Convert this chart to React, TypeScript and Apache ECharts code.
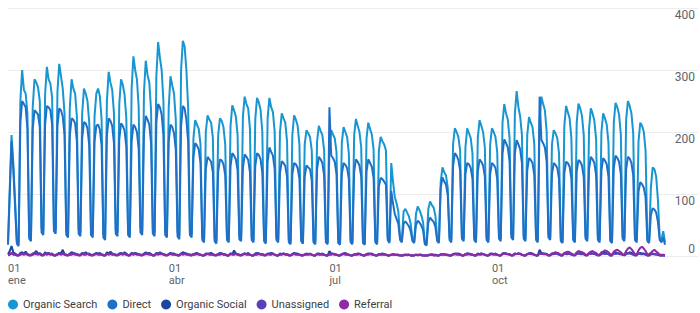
import React, { useEffect, useRef } from "react";
import * as echarts from "echarts";

// Daily sessions, one row per week (Mon..Sun), starting 2024-01-01
const ORGANIC_SEARCH = [
  22, 110, 195, 150, 90, 24, 20,
  250, 300, 268, 262, 230, 32, 28,
  240, 285, 280, 272, 250, 45, 40,
  260, 305, 285, 278, 255, 48, 42,
  265, 310, 290, 270, 230, 40, 35,
  240, 285, 270, 262, 225, 42, 38,
  230, 270, 262, 250, 215, 40, 36,
  225, 262, 270, 258, 220, 35, 30,
  250, 297, 280, 268, 230, 42, 38,
  245, 285, 276, 260, 222, 40, 35,
  270, 322, 300, 285, 240, 45, 40,
  265, 315, 292, 280, 235, 42, 38,
  290, 345, 320, 300, 250, 40, 35,
  240, 290, 275, 262, 220, 38, 32,
  300, 347, 338, 300, 240, 40, 35,
  190, 219, 212, 205, 180, 30, 25,
  200, 227, 220, 215, 190, 28, 24,
  195, 222, 218, 208, 180, 30, 26,
  210, 243, 235, 225, 195, 32, 28,
  225, 257, 245, 238, 205, 30, 25,
  220, 255, 248, 236, 200, 28, 24,
  222, 255, 240, 232, 200, 30, 26,
  200, 230, 222, 215, 185, 26, 22,
  195, 227, 220, 210, 180, 28, 24,
  180, 203, 198, 192, 170, 25, 22,
  185, 210, 202, 195, 170, 26, 22,
  178, 203, 196, 190, 168, 24, 20,
  182, 208, 200, 192, 165, 25, 22,
  195, 221, 210, 200, 175, 24, 20,
  190, 215, 205, 196, 172, 26, 22,
  170, 192, 185, 180, 170, 30, 24,
  150, 120, 95, 85, 72, 30, 25,
  72, 76, 70, 64, 52, 28, 24,
  68, 80, 74, 66, 55, 22, 20,
  76, 88, 82, 78, 65, 28, 24,
  120, 143, 135, 130, 110, 30, 26,
  180, 206, 200, 192, 170, 32, 28,
  175, 206, 198, 190, 165, 30, 26,
  190, 219, 210, 200, 175, 30, 25,
  180, 206, 200, 192, 168, 32, 28,
  215, 245, 230, 220, 190, 35, 30,
  230, 266, 240, 225, 195, 32, 28,
  195, 224, 215, 208, 180, 30, 26,
  220, 257, 245, 235, 200, 35, 30,
  180, 203, 198, 190, 165, 28, 24,
  210, 242, 232, 222, 190, 30, 25,
  215, 246, 238, 226, 195, 32, 28,
  205, 238, 230, 218, 188, 30, 26,
  200, 230, 222, 212, 182, 28, 24,
  215, 247, 240, 228, 196, 32, 28,
  220, 250, 242, 230, 198, 30, 26,
  185, 215, 210, 200, 170, 28, 24,
  110, 143, 140, 128, 90, 30, 26,
  40, 22,
];

const DIRECT = [
  18, 100, 185, 140, 80, 20, 16,
  215, 250, 245, 240, 205, 28, 24,
  205, 235, 232, 228, 208, 38, 34,
  212, 242, 240, 235, 212, 40, 36,
  210, 238, 235, 225, 195, 34, 30,
  195, 222, 220, 214, 185, 36, 32,
  190, 216, 214, 206, 178, 34, 30,
  185, 210, 212, 204, 178, 30, 26,
  195, 222, 218, 210, 182, 36, 32,
  188, 214, 210, 202, 176, 34, 30,
  185, 212, 208, 200, 172, 38, 34,
  198, 226, 220, 212, 182, 36, 32,
  215, 245, 240, 228, 195, 34, 30,
  185, 212, 208, 198, 172, 32, 27,
  210, 242, 238, 220, 185, 34, 30,
  160, 182, 178, 172, 150, 26, 22,
  140, 160, 156, 152, 135, 24, 20,
  136, 156, 154, 148, 130, 26, 22,
  145, 166, 162, 156, 138, 27, 24,
  142, 164, 160, 155, 135, 26, 22,
  145, 166, 163, 156, 134, 24, 20,
  152, 175, 168, 162, 140, 26, 22,
  134, 153, 150, 145, 128, 22, 19,
  132, 150, 148, 142, 125, 24, 20,
  128, 146, 143, 140, 122, 22, 19,
  140, 160, 156, 150, 130, 22, 19,
  240, 162, 158, 152, 132, 21, 18,
  132, 150, 147, 142, 124, 22, 19,
  136, 156, 152, 146, 128, 21, 18,
  136, 156, 150, 144, 126, 22, 19,
  112, 126, 124, 120, 115, 26, 21,
  105, 85, 68, 60, 52, 26, 22,
  52, 56, 52, 48, 40, 24, 21,
  50, 57, 54, 49, 42, 19, 17,
  54, 62, 58, 55, 47, 24, 21,
  110, 127, 120, 115, 98, 26, 22,
  145, 166, 162, 155, 138, 28, 24,
  132, 150, 148, 142, 124, 26, 22,
  136, 156, 152, 146, 128, 26, 22,
  132, 150, 147, 142, 124, 28, 24,
  165, 188, 182, 175, 152, 30, 26,
  165, 187, 180, 172, 150, 28, 24,
  138, 158, 155, 150, 130, 26, 22,
  257, 187, 182, 175, 152, 30, 26,
  132, 150, 147, 142, 124, 24, 21,
  134, 152, 150, 144, 125, 26, 22,
  136, 155, 152, 146, 127, 28, 24,
  140, 160, 156, 150, 130, 26, 22,
  138, 158, 154, 148, 128, 24, 21,
  142, 162, 158, 152, 132, 28, 24,
  140, 160, 157, 150, 130, 26, 22,
  104, 119, 116, 110, 95, 24, 21,
  66, 77, 75, 70, 55, 26, 22,
  30, 18,
];

const ORGANIC_SOCIAL = [
  3, 8, 16, 6, 4, 2, 1,
  5, 6, 4, 7, 3, 1, 2,
  4, 5, 8, 4, 3, 2, 1,
  6, 4, 5, 3, 4, 1, 1,
  3, 5, 4, 10, 3, 2, 1,
  4, 6, 5, 4, 3, 1, 2,
  5, 4, 6, 3, 4, 2, 1,
  3, 5, 4, 5, 2, 1, 1,
  6, 4, 7, 4, 3, 2, 1,
  4, 5, 3, 6, 4, 1, 2,
  5, 4, 5, 4, 3, 2, 1,
  4, 6, 4, 5, 3, 1, 1,
  5, 4, 6, 4, 3, 2, 1,
  3, 5, 4, 4, 2, 1, 1,
  4, 6, 5, 4, 3, 2, 1,
  3, 4, 5, 3, 2, 1, 1,
  4, 3, 4, 5, 3, 1, 2,
  3, 5, 4, 3, 2, 1, 1,
  4, 3, 9, 4, 3, 2, 1,
  3, 4, 3, 5, 2, 1, 1,
  4, 5, 4, 3, 3, 1, 2,
  3, 4, 5, 4, 2, 1, 1,
  4, 3, 4, 3, 3, 2, 1,
  3, 5, 4, 4, 2, 1, 1,
  2, 4, 3, 3, 2, 1, 1,
  3, 4, 3, 4, 2, 1, 1,
  8, 4, 3, 3, 2, 1, 1,
  3, 4, 5, 3, 2, 1, 1,
  2, 3, 4, 3, 2, 1, 1,
  3, 4, 3, 4, 2, 1, 1,
  3, 3, 4, 3, 2, 1, 1,
  2, 3, 2, 2, 2, 1, 1,
  1, 2, 2, 2, 1, 1, 1,
  2, 1, 2, 2, 1, 1, 1,
  1, 2, 2, 1, 2, 1, 1,
  2, 3, 3, 2, 2, 1, 1,
  3, 4, 3, 4, 3, 1, 1,
  3, 4, 4, 3, 2, 1, 1,
  4, 3, 4, 3, 2, 1, 1,
  3, 4, 3, 4, 2, 1, 1,
  4, 5, 4, 3, 3, 1, 2,
  4, 3, 4, 4, 2, 1, 1,
  3, 4, 5, 3, 2, 1, 1,
  10, 5, 4, 4, 3, 1, 2,
  4, 3, 4, 5, 3, 1, 1,
  4, 5, 4, 3, 3, 2, 1,
  5, 4, 5, 4, 3, 1, 1,
  4, 5, 4, 4, 3, 1, 2,
  4, 5, 6, 4, 3, 1, 1,
  5, 6, 5, 4, 3, 2, 1,
  5, 4, 6, 5, 3, 1, 2,
  4, 5, 4, 4, 3, 1, 1,
  3, 4, 3, 3, 2, 1, 1,
  1, 1,
];

const UNASSIGNED = [
  2, 3, 5, 3, 2, 1, 1,
  3, 4, 3, 4, 3, 2, 1,
  3, 4, 4, 3, 5, 2, 2,
  4, 3, 4, 3, 3, 1, 2,
  3, 4, 3, 4, 3, 2, 1,
  3, 3, 4, 3, 3, 2, 2,
  4, 3, 3, 4, 2, 1, 2,
  3, 4, 3, 3, 3, 2, 1,
  4, 3, 4, 3, 3, 2, 2,
  3, 4, 3, 4, 2, 1, 1,
  4, 3, 4, 3, 3, 2, 2,
  3, 4, 4, 3, 3, 1, 2,
  4, 3, 4, 4, 3, 2, 1,
  3, 4, 3, 3, 2, 2, 1,
  4, 3, 4, 3, 3, 2, 2,
  3, 3, 4, 3, 2, 1, 1,
  3, 4, 3, 3, 2, 2, 1,
  3, 3, 4, 3, 3, 1, 1,
  4, 3, 3, 4, 2, 2, 1,
  3, 4, 3, 3, 2, 1, 1,
  3, 3, 4, 3, 3, 2, 1,
  4, 3, 3, 4, 2, 1, 1,
  3, 3, 4, 3, 2, 1, 1,
  3, 4, 3, 3, 2, 2, 1,
  3, 3, 3, 4, 2, 1, 1,
  4, 3, 3, 3, 2, 1, 1,
  3, 3, 4, 3, 2, 1, 1,
  3, 4, 3, 3, 2, 1, 1,
  3, 3, 3, 4, 2, 1, 1,
  3, 3, 4, 3, 2, 1, 1,
  3, 3, 3, 3, 2, 1, 1,
  2, 3, 2, 2, 2, 1, 1,
  2, 2, 2, 2, 1, 1, 1,
  2, 2, 2, 2, 1, 1, 1,
  2, 2, 3, 2, 2, 1, 1,
  3, 3, 3, 2, 2, 1, 1,
  3, 3, 4, 3, 2, 1, 1,
  3, 4, 3, 3, 2, 1, 1,
  3, 3, 4, 3, 2, 1, 1,
  4, 3, 3, 3, 2, 1, 1,
  3, 4, 4, 3, 3, 1, 1,
  4, 3, 4, 3, 2, 1, 1,
  3, 4, 3, 4, 2, 1, 1,
  4, 4, 3, 3, 3, 1, 1,
  3, 3, 4, 3, 2, 1, 1,
  4, 3, 3, 4, 2, 1, 1,
  3, 4, 3, 3, 3, 2, 1,
  4, 3, 4, 3, 2, 1, 1,
  3, 4, 3, 4, 3, 1, 1,
  4, 3, 4, 3, 3, 2, 1,
  3, 4, 4, 3, 2, 1, 1,
  4, 3, 3, 3, 2, 1, 1,
  3, 3, 3, 2, 2, 1, 1,
  1, 1,
];

const REFERRAL = [
  1, 2, 4, 2, 2, 1, 1,
  2, 3, 2, 3, 2, 1, 1,
  2, 3, 3, 2, 3, 1, 1,
  3, 2, 3, 2, 2, 1, 1,
  2, 3, 2, 3, 2, 1, 1,
  2, 2, 3, 2, 2, 1, 1,
  3, 2, 2, 3, 2, 1, 1,
  2, 3, 2, 2, 2, 1, 1,
  3, 2, 3, 2, 2, 1, 1,
  2, 3, 2, 3, 2, 1, 1,
  3, 2, 3, 2, 2, 1, 1,
  2, 3, 3, 2, 2, 1, 1,
  3, 2, 3, 3, 2, 1, 1,
  2, 3, 2, 2, 2, 1, 1,
  3, 2, 3, 2, 2, 1, 1,
  2, 2, 3, 2, 2, 1, 1,
  2, 3, 2, 2, 2, 1, 1,
  2, 2, 3, 2, 2, 1, 1,
  3, 2, 2, 3, 2, 1, 1,
  2, 3, 2, 2, 2, 1, 1,
  2, 2, 3, 2, 2, 1, 1,
  3, 2, 2, 3, 2, 1, 1,
  2, 2, 3, 2, 2, 1, 1,
  2, 3, 2, 2, 2, 1, 1,
  2, 2, 2, 3, 2, 1, 1,
  3, 2, 2, 2, 2, 1, 1,
  2, 2, 3, 2, 2, 1, 1,
  2, 3, 2, 2, 2, 1, 1,
  2, 2, 2, 3, 2, 1, 1,
  2, 2, 3, 2, 2, 1, 1,
  2, 2, 2, 2, 2, 1, 1,
  2, 2, 2, 2, 1, 1, 1,
  1, 2, 1, 2, 1, 1, 1,
  2, 1, 2, 1, 1, 1, 1,
  1, 2, 2, 1, 1, 1, 1,
  2, 2, 2, 2, 1, 1, 1,
  2, 3, 2, 2, 2, 1, 1,
  2, 2, 3, 2, 2, 1, 1,
  3, 2, 2, 3, 2, 1, 1,
  2, 3, 2, 2, 2, 1, 1,
  3, 4, 3, 3, 2, 1, 1,
  3, 3, 4, 3, 2, 1, 1,
  3, 4, 3, 3, 2, 1, 1,
  4, 3, 4, 3, 3, 1, 1,
  4, 5, 6, 5, 4, 2, 2,
  5, 6, 7, 6, 4, 2, 2,
  6, 8, 7, 6, 5, 2, 2,
  5, 7, 8, 6, 5, 2, 2,
  6, 7, 9, 8, 6, 3, 2,
  7, 9, 10, 8, 6, 3, 2,
  8, 12, 14, 11, 7, 3, 3,
  9, 13, 15, 12, 8, 3, 3,
  5, 8, 10, 7, 5, 2, 2,
  2, 1,
];

const SERIES_NAMES = ["Organic Search", "Direct", "Organic Social", "Unassigned", "Referral"];
const SERIES_DATA = [ORGANIC_SEARCH, DIRECT, ORGANIC_SOCIAL, UNASSIGNED, REFERRAL];
const SERIES_COLORS = ["#1896d2", "#1f6fc6", "#1a45a0", "#5d3fb8", "#8e2aa7"];
const Y_TICKS = [0, 100, 200, 300, 400];
const MONTH_ABBR = ["ene", "feb", "mar", "abr", "may", "jun", "jul", "ago", "sep", "oct", "nov", "dic"];
const LABELED_MONTHS = [0, 3, 6, 9];
const START_DATE = "2024-01-01";

function buildDates(n: number): string[] {
  const out: string[] = [];
  const start = new Date(START_DATE + "T00:00:00Z").getTime();
  for (let i = 0; i < n; i++) {
    out.push(new Date(start + i * 86400000).toISOString().slice(0, 10));
  }
  return out;
}

export default function App() {
  const ref = useRef<HTMLDivElement>(null);

  useEffect(() => {
    if (!ref.current) return;
    const chart = echarts.init(ref.current, null, { renderer: "svg" });
    const dates = buildDates(ORGANIC_SEARCH.length);
    const isLabeled = (d: string) => {
      const y = d.slice(0, 4);
      const m = parseInt(d.slice(5, 7), 10) - 1;
      return y === "2024" && d.slice(8, 10) === "01" && LABELED_MONTHS.includes(m);
    };
    const font = "Roboto, 'Noto Sans', sans-serif";
    chart.setOption({
      animation: false,
      textStyle: { fontFamily: font },
      grid: [
        { left: 8, right: 35, top: 8, bottom: 57 },
        { left: 8, right: 2, top: 8, bottom: 57 },
      ],
      legend: {
        left: 3,
        top: 294,
        icon: "circle",
        itemWidth: 10,
        itemHeight: 10,
        itemGap: 10,
        data: SERIES_NAMES,
        textStyle: { fontSize: 11, color: "#3c4043", fontFamily: font },
      },
      xAxis: [
        {
          type: "category",
          gridIndex: 0,
          data: dates,
          boundaryGap: false,
          axisLine: { show: false },
          axisTick: { show: false },
          splitLine: { show: false },
          axisLabel: {
            interval: (_i: number, v: string) => isLabeled(v),
            formatter: (v: string) => {
              const m = parseInt(v.slice(5, 7), 10) - 1;
              return v.slice(8, 10) + "\n" + MONTH_ABBR[m];
            },
            align: "left",
            margin: 6,
            fontSize: 11,
            lineHeight: 12,
            color: "#5f6368",
            fontFamily: font,
          },
        },
        { type: "value", gridIndex: 1, show: false, min: 0, max: 1 },
      ],
      yAxis: [
        { type: "value", gridIndex: 0, min: 0, max: 400, interval: 100, show: false },
        {
          type: "value",
          gridIndex: 1,
          position: "right",
          min: 0,
          max: 400,
          interval: 100,
          axisLine: { show: false },
          axisTick: { show: false },
          splitLine: { show: true, lineStyle: { color: "#ececec", width: 1 } },
          axisLabel: {
            inside: true,
            margin: 3,
            color: "#5f6368",
            fontSize: 12,
            fontFamily: font,
            formatter: (v: number) => (Y_TICKS.includes(v) ? (v === 0 ? `{b|${v}}` : `{a|${v}}`) : ""),
            rich: {
              a: { padding: [14, 0, 0, 0], fontSize: 12, color: "#5f6368", fontFamily: font },
              b: { padding: [0, 0, 14, 0], fontSize: 12, color: "#5f6368", fontFamily: font },
            },
          },
        },
      ],
      series: SERIES_NAMES.map((name, i) => ({
        name,
        type: "line",
        xAxisIndex: 0,
        yAxisIndex: 0,
        data: SERIES_DATA[i],
        showSymbol: false,
        symbol: "circle",
        color: SERIES_COLORS[i],
        lineStyle: { width: 2, color: SERIES_COLORS[i] },
        itemStyle: { color: SERIES_COLORS[i] },
      })),
    });
    return () => chart.dispose();
  }, []);

  return <div ref={ref} style={{ width: 700, height: 313, position: "absolute", left: 0, top: 0 }} />;
}
